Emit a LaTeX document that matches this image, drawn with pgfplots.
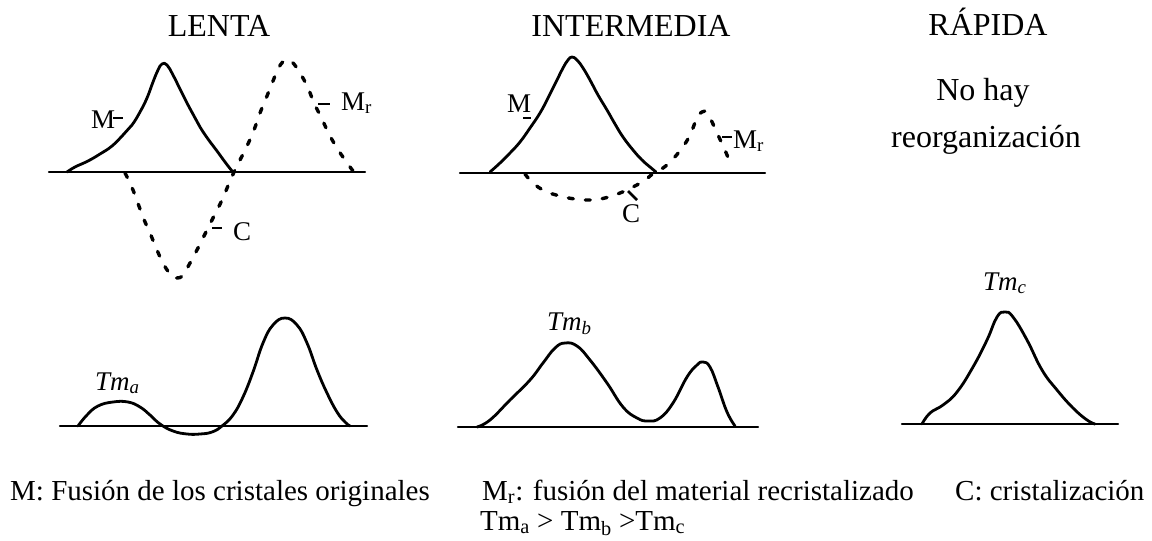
\documentclass[border=0pt]{standalone}
\usepackage{fontspec}
\setmainfont{Liberation Serif}
\usepackage{pgfplots}
\pgfplotsset{compat=1.18}

\newcommand{\titlefont}{\fontsize{32bp}{38bp}\selectfont}
\newcommand{\labelfont}{\fontsize{27bp}{32bp}\selectfont}
\newcommand{\notefont}{\fontsize{29bp}{34bp}\selectfont}

\begin{document}
\begin{tikzpicture}
\path[use as bounding box] (0,0) rectangle (1152bp,541bp);
\begin{axis}[
  scale only axis,
  width=1152bp, height=541bp,
  xmin=0, xmax=1152, ymin=0, ymax=541,
  y dir=reverse,
  hide axis,
  clip=false,
  every axis plot/.append style={line join=round, line cap=round},
  solidc/.style={black, line width=2.8bp, smooth, tension=0.75},
  dotc/.style={black, line width=3.4bp, smooth, tension=0.75, dash pattern=on 5bp off 12bp},
  base/.style={black, line width=2.4bp},
  nodes={inner sep=0pt, anchor=base west},
]
% ---------- LENTA (top) ----------
\addplot[base] coordinates {(49,172) (365,172)};
\addplot[solidc] coordinates {
 (67,172) (75,167) (88,161) (100,154) (112,146) (123,135) (132,125)
 (140,112) (147,98) (153,82) (158,70) (162,64) (167,65) (173,75)
 (180,89) (187,103) (194,116) (200,127) (208,139) (217,151) (225,162) (232,171)};
\addplot[dotc] coordinates {
 (125,173) (133,190) (143,217) (150,233) (157,250) (164,265) (172,276)
 (177,278) (183,275) (190,263) (198,248) (206,232) (214,216) (222,200)
 (230,181) (235,170) (240,160) (247,146) (254,130) (260,113) (267,96)
 (273,81) (279,67) (286,60) (292,62) (300,73) (308,88) (314,103)
 (321,117) (329,134) (337,148) (345,160) (353,171)};

% ---------- INTERMEDIA (top) ----------
\addplot[base] coordinates {(460,173) (765,173)};
\addplot[solidc] coordinates {
 (490,172) (500,163) (510,153) (520,142) (530,128) (540,113) (548,98)
 (556,82) (563,68) (568,60) (572,57) (577,60) (583,68) (590,80)
 (598,95) (607,110) (615,124) (623,137) (633,150) (642,160) (650,167) (656,172)};
\addplot[dotc] coordinates {
 (525,174) (533,183) (545,191) (560,196) (575,199) (590,200) (605,198)
 (620,193) (633,187) (645,180) (655,172) (663,168) (672,160) (682,148)
 (690,135) (697,118) (702,112) (707,113) (713,124) (718,135) (724,148)
 (730,162) (732,166)};

% ---------- LENTA (bottom) ----------
\addplot[base] coordinates {(60,426) (367,426)};
\addplot[solidc] coordinates {
 (78,426) (87,415) (98,406) (113,402) (128,402) (140,407) (150,415)
 (160,424) (173,431) (187,434) (200,434) (212,432) (222,426) (233,415)
 (243,397) (253,372) (263,343) (273,325) (285,318) (297,325) (307,343)
 (317,370) (327,393) (337,412) (345,422) (350,426)};

% ---------- INTERMEDIA (bottom) ----------
\addplot[base] coordinates {(458,427) (758,427)};
\addplot[solidc] coordinates {
 (477,427) (490,420) (510,400) (530,380) (543,363) (555,348) (565,343)
 (577,346) (590,360) (607,383) (623,407) (637,418) (648,421) (660,418)
 (673,403) (687,377) (697,365) (703,362) (710,367) (718,387) (727,412) (735,426)};

% ---------- RAPIDA (bottom) ----------
\addplot[base] coordinates {(902,424) (1118,424)};
\addplot[solidc] coordinates {
 (922,424) (930,413) (943,405) (957,392) (973,367) (987,340) (997,317)
 (1005,312) (1013,317) (1027,340) (1042,370) (1057,390) (1073,408)
 (1087,420) (1095,424)};

% ---------- leader ticks of the labels ----------
\draw[black, line width=2.5bp] (axis cs:113,118) -- (axis cs:123,118);
\draw[black, line width=2.5bp] (axis cs:318,104) -- (axis cs:330,104);
\draw[black, line width=2.5bp] (axis cs:212,228) -- (axis cs:222,228);
\draw[black, line width=2.5bp] (axis cs:523,118) -- (axis cs:531,118);
\draw[black, line width=2.5bp] (axis cs:722,137) -- (axis cs:732,137);
\draw[black, line width=2.5bp] (axis cs:628,191) -- (axis cs:637,200);

% ---------- titles ----------
\node[anchor=base] at (axis cs:219,37) {\titlefont LENTA};
\node[anchor=base] at (axis cs:631,37) {\titlefont INTERMEDIA};
\node[anchor=base] at (axis cs:988,36) {\titlefont RÁPIDA};
\node[anchor=base] at (axis cs:983,100) {\titlefont No hay};
\node[anchor=base] at (axis cs:986,147) {\titlefont reorganización};

% ---------- curve labels ----------
\node at (axis cs:91,128) {\labelfont M};
\node at (axis cs:341,110) {\labelfont M\textsubscript{r}};
\node at (axis cs:233,240) {\labelfont C};
\node at (axis cs:507,112) {\labelfont M};
\node at (axis cs:733,148) {\labelfont M\textsubscript{r}};
\node at (axis cs:622,222) {\labelfont C};
\node at (axis cs:95,390) {\labelfont\itshape Tm\textsubscript{a}};
\node at (axis cs:547,330) {\labelfont\itshape Tm\textsubscript{b}};
\node at (axis cs:983,290) {\labelfont\itshape Tm\textsubscript{c}};

% ---------- notes ----------
\node at (axis cs:10,500) {\notefont M: Fusión de los cristales originales};
\node at (axis cs:482,500) {\notefont M\textsubscript{r}: fusión del material recristalizado};
\node at (axis cs:955,500) {\notefont C: cristalización};
\node at (axis cs:480,530) {\notefont Tm\textsubscript{a} > Tm\textsubscript{b} >Tm\textsubscript{c}};
\end{axis}
\end{tikzpicture}
\end{document}
